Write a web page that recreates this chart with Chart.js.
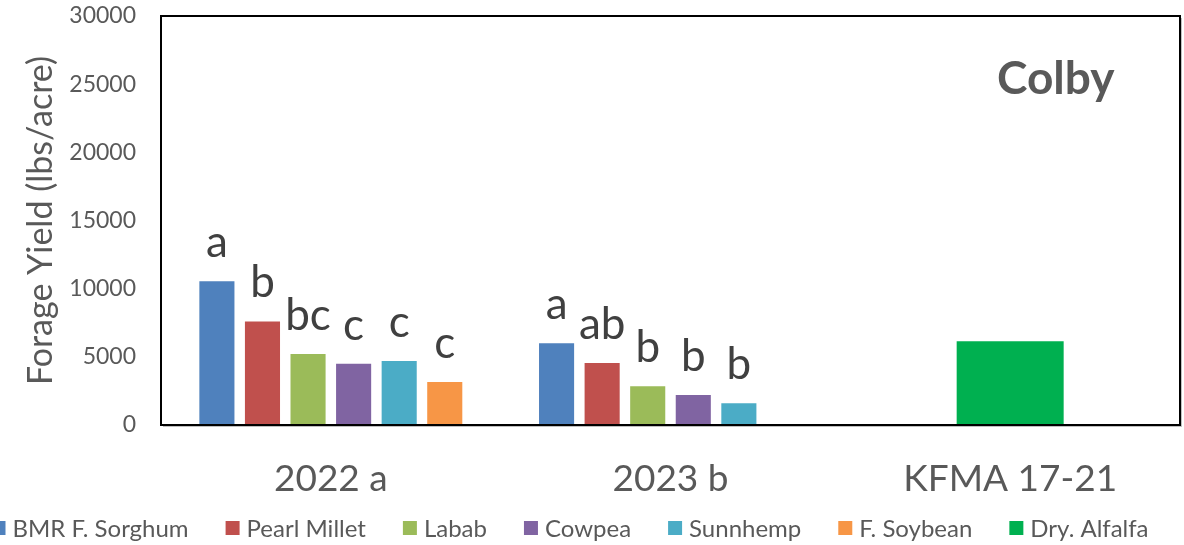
<!DOCTYPE html>
<html>
<head>
<meta charset="utf-8">
<script src="https://cdn.jsdelivr.net/npm/chart.js@4/dist/chart.umd.min.js"></script>
<style>
  html, body { margin: 0; padding: 0; background: #fff; overflow: hidden; width: 1184px; height: 545px; }
  canvas { display: block; }
</style>
</head>
<body>
<canvas id="chart" width="1184" height="545"></canvas>
<script>
// Forage yield by year, Colby site
const categories = ['2022 a', '2023 b', 'KFMA 17-21'];

const sorghum     = [10550, 6000, null];
const pearlMillet = [7600, 4550, null];
const labab       = [5200, 2850, null];
const cowpea      = [4500, 2200, null];
const sunnhemp    = [4700, 1600, null];
const soybean     = [3150, null, null];
const alfalfa     = [null, null, 6150];

// mean-separation letters shown above each bar
const sorghumLetters     = ['a', 'a', ''];
const pearlMilletLetters = ['b', 'ab', ''];
const lababLetters       = ['bc', 'b', ''];
const cowpeaLetters      = ['c', 'b', ''];
const sunnhempLetters    = ['c', 'b', ''];
const soybeanLetters     = ['c', '', ''];
const alfalfaLetters     = ['', '', ''];

const yTicks = [0, 5000, 10000, 15000, 20000, 25000, 30000];

Chart.defaults.font.family = 'Lato';
Chart.defaults.color = '#595959';

const cropBar = (label, data, color, letters) => ({
  label, data, letters,
  backgroundColor: color,
  borderWidth: 0,
  categoryPercentage: 0.805,
  barPercentage: 0.77
});

const datasets = [
  cropBar('BMR F. Sorghum', sorghum, '#4F81BD', sorghumLetters),
  cropBar('Pearl Millet', pearlMillet, '#C0504D', pearlMilletLetters),
  cropBar('Labab', labab, '#9BBB59', lababLetters),
  cropBar('Cowpea', cowpea, '#8064A2', cowpeaLetters),
  cropBar('Sunnhemp', sunnhemp, '#4BACC6', sunnhempLetters),
  cropBar('F. Soybean', soybean, '#F79646', soybeanLetters),
  {
    // long-term KFMA average, drawn on its own, centred in its category
    label: 'Dry. Alfalfa', data: alfalfa, letters: alfalfaLetters,
    backgroundColor: '#00B050', borderWidth: 0,
    grouped: false,
    categoryPercentage: 1, barPercentage: 0.315
  }
];

// letters above bars, site name, plot frame and a one-row legend
const annotations = {
  id: 'annotations',
  afterDatasetsDraw(chart) {
    const ctx = chart.ctx;
    const a = chart.chartArea;
    ctx.save();

    ctx.font = '44px Lato';
    ctx.fillStyle = '#404040';
    ctx.textAlign = 'center';
    ctx.textBaseline = 'alphabetic';
    chart.data.datasets.forEach((ds, di) => {
      const meta = chart.getDatasetMeta(di);
      meta.data.forEach((bar, i) => {
        const txt = ds.letters[i];
        if (!txt || ds.data[i] == null) return;
        ctx.fillText(txt, bar.x, bar.y - 24);
      });
    });

    ctx.font = 'bold 46px Lato';
    ctx.fillStyle = '#595959';
    ctx.textAlign = 'left';
    ctx.fillText('Colby', 997, 94);

    // frame
    ctx.strokeStyle = 'rgba(0,0,0,0.25)';
    ctx.lineWidth = 1;
    ctx.beginPath();
    ctx.moveTo(a.right + 1.5, a.top + 2);
    ctx.lineTo(a.right + 1.5, a.bottom + 1.5);
    ctx.lineTo(a.left + 2, a.bottom + 1.5);
    ctx.stroke();
    ctx.strokeStyle = '#000';
    ctx.lineWidth = 2;
    ctx.strokeRect(a.left, a.top, a.right - a.left, a.bottom - a.top);

    // legend row
    const box = 14, textGap = 7, itemGap = 37, rowY = 528, rowCenter = 570;
    ctx.font = '24px Lato';
    ctx.textBaseline = 'middle';
    const items = chart.data.datasets.map(ds => ({
      text: ds.label, color: ds.backgroundColor,
      w: box + textGap + ctx.measureText(ds.label).width
    }));
    const total = items.reduce((s, it) => s + it.w, 0) + itemGap * (items.length - 1);
    let x = rowCenter - total / 2;
    items.forEach(it => {
      ctx.fillStyle = it.color;
      ctx.fillRect(x, rowY - box / 2, box, box);
      ctx.fillStyle = '#595959';
      ctx.fillText(it.text, x + box + textGap, rowY + 1);
      x += it.w + itemGap;
    });

    ctx.restore();
  }
};

new Chart(document.getElementById('chart'), {
  type: 'bar',
  data: { labels: categories, datasets },
  options: {
    responsive: false,
    animation: false,
    layout: { padding: { left: 0, top: 16, right: 4, bottom: 0 } },
    plugins: {
      tooltip: { enabled: false },
      legend: { display: false }
    },
    scales: {
      x: {
        offset: true,
        grid: { display: false, drawTicks: false },
        border: { display: false },
        ticks: { font: { size: 37 }, color: '#595959', padding: 32 },
        afterFit(scale) {
          scale.height = 120;
          scale.paddingLeft = 0;
          scale.paddingRight = 0;
        }
      },
      y: {
        min: 0,
        max: 30000,
        afterBuildTicks(scale) { scale.ticks = yTicks.map(v => ({ value: v })); },
        grid: { display: false, drawTicks: false },
        border: { display: false },
        ticks: {
          font: { size: 23 }, color: '#595959', padding: 25,
          callback: (v) => String(v)
        },
        title: {
          display: true,
          text: 'Forage Yield (lbs/acre)',
          font: { size: 34 },
          color: '#595959',
          padding: { top: 21, bottom: 0 }
        },
        afterFit(scale) {
          scale.width = 161;
          scale.paddingTop = 0;
          scale.paddingBottom = 0;
        }
      }
    }
  },
  plugins: [annotations]
});
</script>
</body>
</html>
